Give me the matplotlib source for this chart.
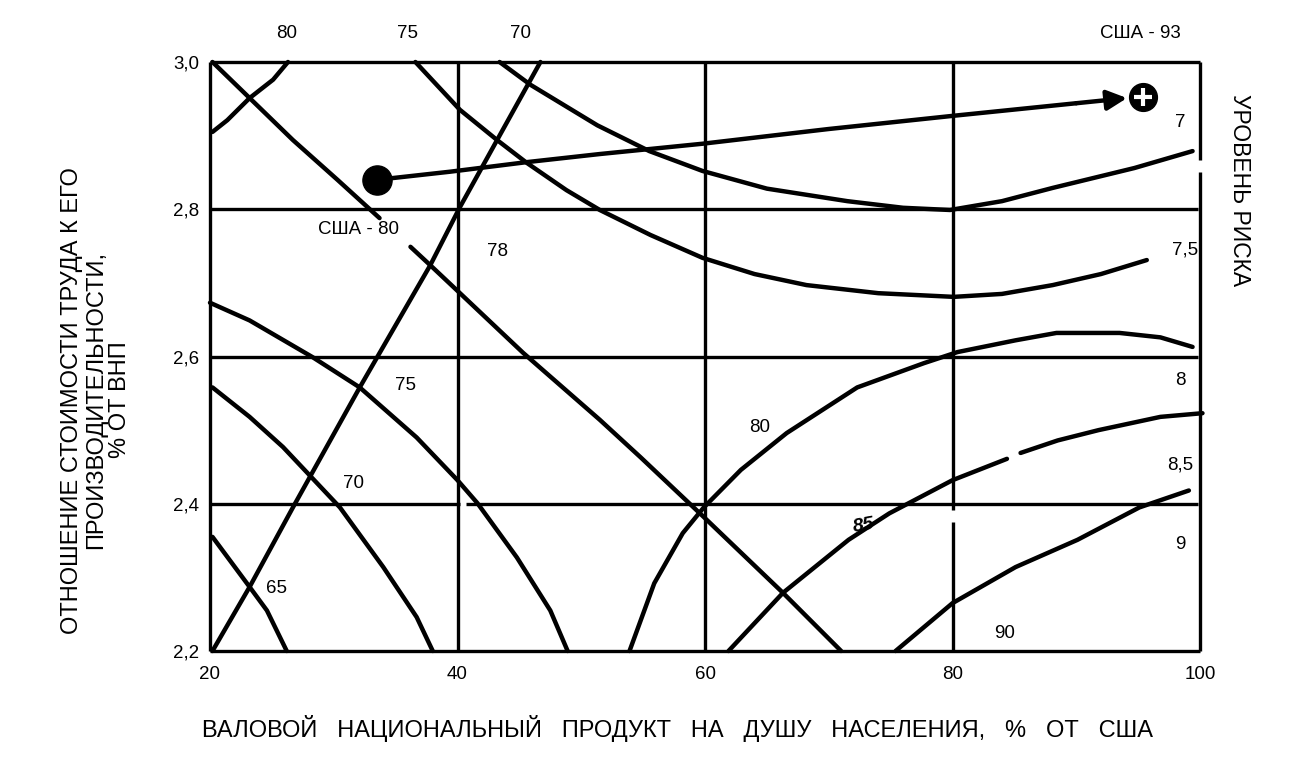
import matplotlib.pyplot as plt

# === Fonts ===
plt.rcParams['font.family'] = ['Liberation Sans', 'DejaVu Sans']

# === Grid / axis values ===
x_ticks = [20, 40, 60, 80, 100]
y_ticks = [2.2, 2.4, 2.6, 2.8, 3.0]
y_tick_labels = ['2,2', '2,4', '2,6', '2,8', '3,0']

# === Descending iso-lines (left family) ===
d65_x = [20.2, 23.2, 24.6, 26.2]
d65_y = [2.355, 2.287, 2.255, 2.2]
d70_x = [20.2, 23.2, 25.9, 28.2, 30.5, 34.0, 36.7, 38.0]
d70_y = [2.558, 2.518, 2.477, 2.436, 2.395, 2.314, 2.246, 2.2]
d75_x = [20.0, 23.2, 28.3, 32.1, 36.7, 40.0, 41.6, 44.8, 47.5, 48.9]
d75_y = [2.673, 2.649, 2.599, 2.558, 2.490, 2.432, 2.401, 2.327, 2.255, 2.2]
d78_x = [36.2, 37.8, 40.2, 45.3, 51.5, 54.8, 59.9, 66.3, 71.0]
d78_y = [2.749, 2.724, 2.686, 2.605, 2.514, 2.463, 2.382, 2.279, 2.2]
d80_x = [20.2, 26.7, 30.3, 33.7]
d80_y = [3.0, 2.894, 2.840, 2.788]

# === Ascending lines ===
a80_x = [20.2, 21.4, 23.2, 25.1, 26.3]
a80_y = [2.905, 2.921, 2.951, 2.976, 3.0]
a70_x = [20.2, 23.2, 26.7, 32.1, 37.8, 40.2, 43.2, 46.7]
a70_y = [2.2, 2.287, 2.395, 2.558, 2.724, 2.803, 2.894, 3.0]

# === Risk level curves (right family) ===
r7_x = [43.4, 45.9, 51.3, 55.5, 59.8, 65.0, 71.5, 76.0, 79.8, 84.0, 88.1, 94.7, 99.4]
r7_y = [3.0, 2.969, 2.914, 2.879, 2.852, 2.828, 2.811, 2.802, 2.799, 2.811, 2.829, 2.856, 2.879]
r75_x = [36.6, 40.2, 43.2, 45.6, 48.8, 51.5, 55.6, 59.8, 64.0, 68.2, 74.0, 80.1, 84.0, 88.1, 92.0, 95.7]
r75_y = [3.0, 2.935, 2.894, 2.863, 2.826, 2.799, 2.765, 2.734, 2.712, 2.697, 2.686, 2.681, 2.685, 2.697, 2.712, 2.731]
r8_x = [53.9, 55.9, 58.2, 59.9, 62.9, 66.6, 72.3, 77.7, 80.4, 85.1, 88.4, 93.5, 96.8, 99.4]
r8_y = [2.2, 2.292, 2.360, 2.395, 2.446, 2.496, 2.558, 2.591, 2.606, 2.622, 2.632, 2.632, 2.626, 2.613]
r85a_x = [61.9, 66.3, 71.6, 74.9, 80.0, 84.4]
r85a_y = [2.2, 2.279, 2.351, 2.387, 2.432, 2.461]
r85b_x = [85.5, 88.5, 91.8, 96.8, 100.2]
r85b_y = [2.469, 2.486, 2.500, 2.518, 2.523]
r9_x = [75.4, 80.0, 85.1, 90.1, 95.1, 99.1]
r9_y = [2.2, 2.265, 2.314, 2.351, 2.395, 2.418]

# === США path ===
usa_x = [33.5, 39.4, 45.6, 51.5, 59.8, 70.0, 80.1, 90.0]
usa_y = [2.840, 2.851, 2.864, 2.875, 2.889, 2.909, 2.927, 2.944]
arrow_tip = (94.1, 2.951)
usa93 = (95.4, 2.952)

# === In-plot labels ===
curve_labels = [
    ('США - 80', 32.0, 2.772), ('78', 43.2, 2.742), ('75', 35.8, 2.561),
    ('70', 31.6, 2.427), ('65', 25.4, 2.285), ('80', 64.4, 2.503),
    ('90', 84.2, 2.224), ('7', 98.4, 2.918), ('7,5', 98.8, 2.745),
    ('8', 98.4, 2.568), ('8,5', 98.4, 2.452), ('9', 98.4, 2.344),
]
top_labels = [('80', 26.2), ('75', 36.0), ('70', 45.1), ('США - 93', 95.2)]

fig = plt.figure(figsize=(12.98, 7.68), dpi=100)
ax = fig.add_axes([210 / 1298, 1 - 651 / 768, 990 / 1298, 589 / 768])
ax.set_xlim(20, 100)
ax.set_ylim(2.2, 3.0)
for s in ax.spines.values():
    s.set_visible(False)

grid_kw = dict(color='black', lw=2.4, clip_on=False, solid_capstyle='butt')
# horizontal lines (2,4 has a small break near 40)
for yv in y_ticks:
    if yv == 2.4:
        ax.plot([20, 40.2], [yv, yv], **grid_kw)
        ax.plot([40.7, 99.8], [yv, yv], **grid_kw)
    elif yv in (2.8, 2.6):
        ax.plot([20, 99.8], [yv, yv], **grid_kw)
    else:
        ax.plot([20, 100], [yv, yv], **grid_kw)
# vertical lines
for xv in x_ticks:
    if xv == 80:
        ax.plot([xv, xv], [2.2, 2.375], **grid_kw)
        ax.plot([xv, xv], [2.392, 3.0], **grid_kw)
    elif xv == 100:
        ax.plot([xv, xv], [2.2, 2.851], **grid_kw)
        ax.plot([xv, xv], [2.867, 3.0], **grid_kw)
    else:
        ax.plot([xv, xv], [2.2, 3.0], **grid_kw)

curve_kw = dict(color='black', lw=3.2, clip_on=False,
                solid_capstyle='round', solid_joinstyle='round')
for cx, cy in [(d65_x, d65_y), (d70_x, d70_y), (d75_x, d75_y), (d78_x, d78_y),
               (d80_x, d80_y), (a80_x, a80_y), (a70_x, a70_y),
               (r7_x, r7_y), (r75_x, r75_y), (r8_x, r8_y),
               (r85a_x, r85a_y), (r85b_x, r85b_y), (r9_x, r9_y)]:
    ax.plot(cx, cy, **curve_kw)

# США trajectory with arrow
ax.plot(usa_x, usa_y, **curve_kw)
ax.annotate('', xy=arrow_tip, xytext=(usa_x[-1], usa_y[-1]),
            arrowprops=dict(arrowstyle='-|>', color='black', lw=3.2,
                            mutation_scale=30, shrinkA=0, shrinkB=0))
ax.plot(usa_x[0], usa_y[0], 'o', color='black', ms=21, clip_on=False)
ax.plot(usa93[0], usa93[1], 'o', color='black', ms=20, clip_on=False)
ax.plot(usa93[0], usa93[1], '+', color='white', ms=13, mew=3, clip_on=False)

# labels inside the plot
for txt, lx, ly in curve_labels:
    ax.text(lx, ly, txt, fontsize=13.5, ha='center', va='center')
ax.text(72.8, 2.37, '85', fontsize=14, fontweight='bold', fontstyle='italic',
        ha='center', va='center', rotation=10)
for txt, lx in top_labels:
    ax.text(lx, 3.039, txt, fontsize=13.5, ha='center', va='center', clip_on=False)

# ticks
ax.set_xticks(x_ticks)
ax.set_yticks(y_ticks)
ax.set_yticklabels(y_tick_labels)
ax.tick_params(axis='both', length=0, labelsize=13.5)
ax.tick_params(axis='x', pad=11)
ax.tick_params(axis='y', pad=8)

# axis titles
fig.text(0.522, 0.052,
         'ВАЛОВОЙ   НАЦИОНАЛЬНЫЙ   ПРОДУКТ   НА   ДУШУ   НАСЕЛЕНИЯ,   %   ОТ   США',
         fontsize=17, ha='center', va='center')
fig.text(0.074, 0.479,
         'ОТНОШЕНИЕ СТОИМОСТИ ТРУДА К ЕГО\nПРОИЗВОДИТЕЛЬНОСТИ,\n% ОТ ВНП',
         fontsize=17, ha='center', va='center', rotation=90,
         multialignment='center', linespacing=1.1)
fig.text(0.955, 0.753, 'УРОВЕНЬ РИСКА', fontsize=16.5, ha='center',
         va='center', rotation=270)

fig.savefig('out.png', dpi=100)
